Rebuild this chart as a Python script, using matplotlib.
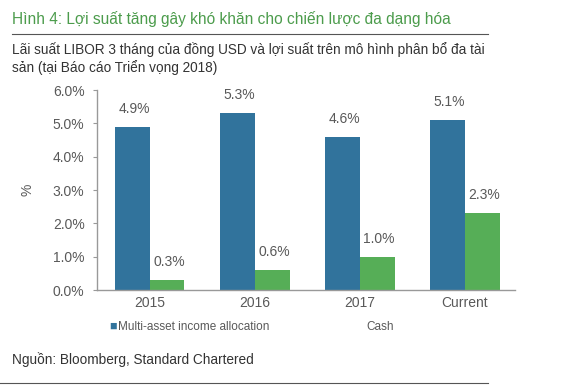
import matplotlib
matplotlib.use("Agg")
import matplotlib.pyplot as plt
import numpy as np

plt.rcParams['font.family'] = ['Liberation Sans', 'DejaVu Sans']

categories = ["2015", "2016", "2017", "Current"]
multi_asset = [4.9, 5.3, 4.6, 5.1]
cash = [0.3, 0.6, 1.0, 2.3]
yticks = [0, 1, 2, 3, 4, 5, 6]

blue = "#31739C"
green = "#56AE57"
grey = "#595959"

W, H = 574, 386
fig = plt.figure(figsize=(W/100, H/100), dpi=100)
ax = fig.add_axes([97/W, 1-290/H, (515-97)/W, 200/H])

x = np.arange(len(categories))
bw = 0.333
b1 = ax.bar(x - bw/2, multi_asset, bw, color=blue, label="Multi-asset income allocation")
b2 = ax.bar(x + bw/2, cash, bw, color=green, label="Cash")

for rects, vals in ((b1, multi_asset), (b2, cash)):
    for r, v in zip(rects, vals):
        ax.annotate(f"{v:.1f}%", (r.get_x() + r.get_width()/2 + 0.02, v),
                    xytext=(0, 13), textcoords="offset points",
                    ha="center", va="center", fontsize=10, color=grey)

ax.set_xlim(-0.5, 3.48)
ax.set_ylim(0, 6)
ax.set_yticks(yticks)
ax.set_yticklabels([f"{t:.1f}%" for t in yticks])
ax.set_xticks(x)
ax.set_xticklabels(categories)
ax.tick_params(axis='y', length=3, color="#999999", labelsize=10, labelcolor=grey, pad=6)
ax.tick_params(axis='x', length=0, labelsize=10, labelcolor=grey, pad=4)
for s in ("top", "right"):
    ax.spines[s].set_visible(False)
for s in ("left", "bottom"):
    ax.spines[s].set_color("#999999")
    ax.spines[s].set_linewidth(1)
ax.set_ylabel("%", fontsize=10, color=grey, labelpad=13)

# Legend (manual)
fig.text(109/W, 1-327/H, "\u25A0", color=blue, fontsize=9, va="center", ha="left")
fig.text(118/W, 1-327/H, "Multi-asset income allocation", color=grey, fontsize=8.5, va="center", ha="left")
fig.text(366/W, 1-327/H, "Cash", color=grey, fontsize=8.5, va="center", ha="left")

# Title and subtitle
fig.text(12/W, 1-19/H, "Hình 4: Lợi suất tăng gây khó khăn cho chiến lược đa dạng hóa",
         color="#4C9C4C", fontsize=11.2, va="center", ha="left")
fig.add_artist(plt.Line2D([12/W, 488/W], [1-34/H, 1-34/H], color="#555555", lw=0.8))
fig.text(12/W, 1-50/H, "Lãi suất LIBOR 3 tháng của đồng USD và lợi suất trên mô hình phân bổ đa tài",
         color="#333333", fontsize=9.8, va="center", ha="left")
fig.text(12/W, 1-68/H, "sản (tại Báo cáo Triển vọng 2018)",
         color="#333333", fontsize=9.8, va="center", ha="left")

fig.text(12/W, 1-360/H, "Nguồn: Bloomberg, Standard Chartered",
         color="#333333", fontsize=9.8, va="center", ha="left")
fig.add_artist(plt.Line2D([0, 488/W], [1-383/H, 1-383/H], color="#555555", lw=0.8))

fig.savefig("out.png", dpi=100, facecolor="white")
